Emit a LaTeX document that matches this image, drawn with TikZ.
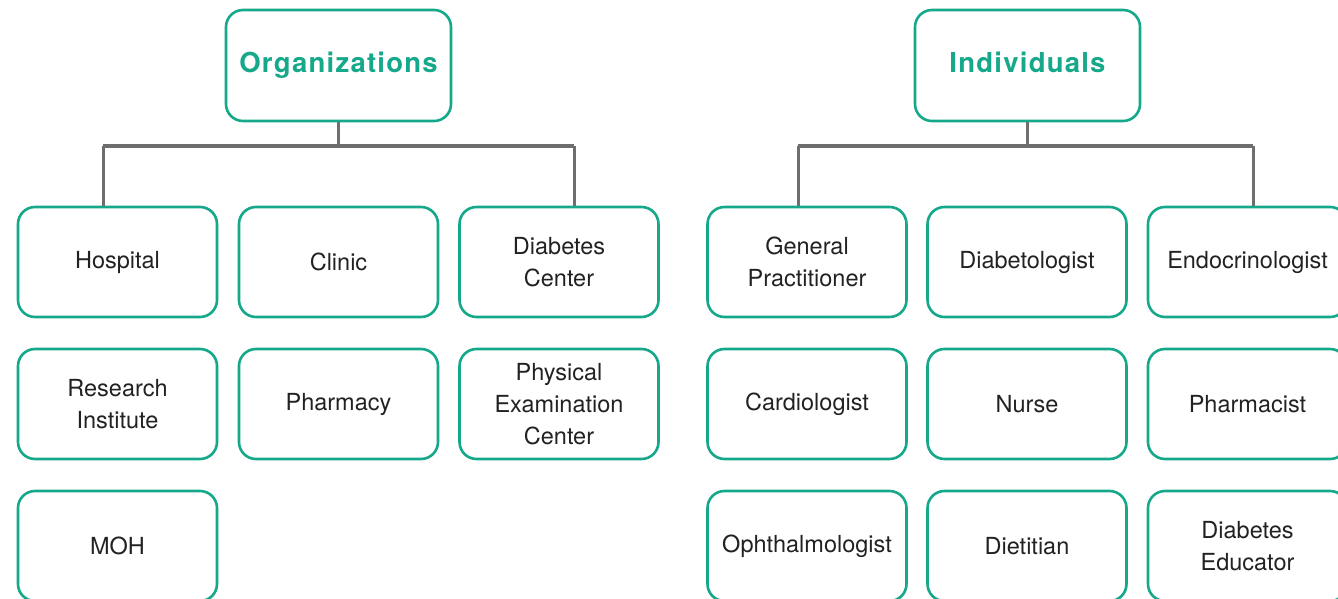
\documentclass[tikz,border=0pt]{standalone}
\usepackage{fontspec}
\setmainfont{TeX Gyre Heros}
\newfontfamily\headfont[LetterSpace=4.5]{TeX Gyre Heros}
\definecolor{teal1}{HTML}{16A88A}
\definecolor{greyline}{HTML}{6E6E6E}
\definecolor{txt}{HTML}{222222}
\begin{document}
\begin{tikzpicture}[x=1pt,y=-1pt,
  box/.style={draw=teal1, line width=2.6pt, rounded corners=17pt, fill=white,
    minimum width=199pt, minimum height=110pt, inner sep=0pt, align=center,
    text=txt, font=\fontsize{23.5}{32}\selectfont},
  head/.style={draw=teal1, line width=2.6pt, rounded corners=17pt, fill=white,
    minimum width=225pt, minimum height=111pt, inner sep=0pt, align=center,
    text height=20pt, text depth=6pt,
    text=teal1, font=\headfont\fontsize{27.5}{32}\selectfont\bfseries},
  conn/.style={draw=greyline, line width=3pt}]
\clip (0,0) rectangle (1338,599);
\fill[white] (0,0) rectangle (1338,599);
% headers
\node[head] (org) at (338.5,65.5) {Organizations};
\node[head] (ind) at (1027.5,65.5) {Individuals};
% organizations
\node[box] (hosp) at (117.5,262) {Hospital};
\node[box] (clin) at (338.5,262) {Clinic};
\node[box] (dcen) at (559,262) {Diabetes\\Center};
\node[box] (rins) at (117.5,404) {Research\\Institute};
\node[box] (phar) at (338.5,404) {Pharmacy};
\node[box] (pec) at (559,404) {Physical\\Examination\\Center};
\node[box] (moh) at (117.5,546) {MOH};
% individuals
\node[box] (gp) at (807,262) {General\\Practitioner};
\node[box] (diab) at (1027,262) {Diabetologist};
\node[box] (endo) at (1247.5,262) {Endocrinologist};
\node[box] (card) at (807,404) {Cardiologist};
\node[box] (nurse) at (1027,404) {Nurse};
\node[box] (pharm) at (1247.5,404) {Pharmacist};
\node[box] (opht) at (807,546) {Ophthalmologist};
\node[box] (diet) at (1027,546) {Dietitian};
\node[box] (deduc) at (1247.5,546) {Diabetes\\Educator};
% connectors
\coordinate (oj) at (338.5,146);
\coordinate (ij) at (1027.5,146);
\draw[conn] (org.south) -- (oj);
\draw[conn] (103,146) -- (574,146);
\draw[conn] (103,146) -- (hosp.north -| 103,0);
\draw[conn] (574,146) -- (dcen.north -| 574,0);
\draw[conn] (ind.south) -- (ij);
\draw[conn] (798,146) -- (1253,146);
\draw[conn] (798,146) -- (gp.north -| 798,0);
\draw[conn] (1253,146) -- (endo.north -| 1253,0);
\end{tikzpicture}
\end{document}
